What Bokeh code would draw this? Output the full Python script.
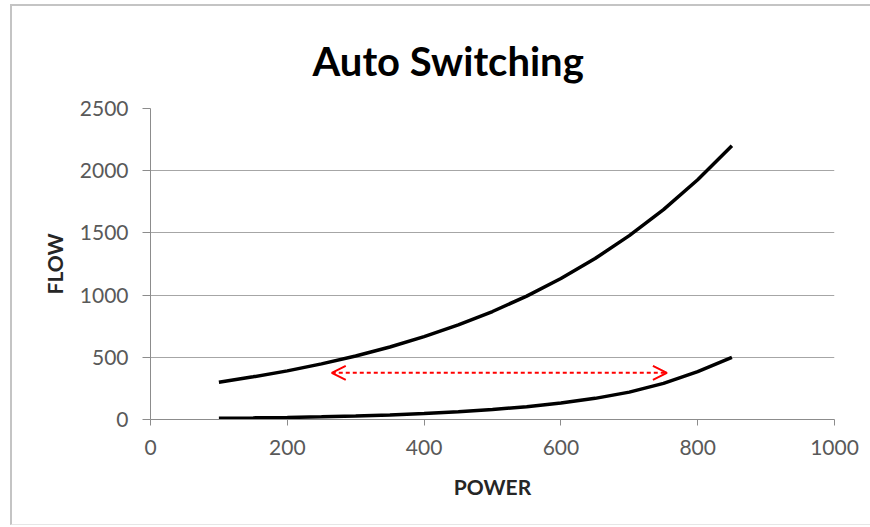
from bokeh.plotting import figure
from bokeh.models import Arrow, OpenHead, FixedTicker, InlineStyleSheet
from bokeh.embed import file_html
from bokeh.resources import INLINE

# ---- data ----
power = [100, 150, 200, 250, 300, 350, 400, 450, 500, 550, 600, 650, 700, 750, 800, 850]
flow_high = [300, 343, 391, 447, 510, 583, 666, 760, 868, 992, 1133, 1294, 1478, 1687, 1927, 2200]
flow_low = [10, 13, 17, 22, 29, 37, 48, 62, 80, 103, 132, 170, 220, 290, 385, 500]
switch_range = [265, 755]   # power span of the auto-switch arrow
switch_flow = 375           # flow level of the arrow
x_ticks = [0, 200, 400, 600, 800, 1000]
y_ticks = [0, 500, 1000, 1500, 2000, 2500]

FONT = "Lato"

p = figure(width=870, height=527, x_range=(0, 1000), y_range=(0, 2500),
           output_backend="svg", toolbar_location=None,
           min_border_left=150, min_border_right=36,
           min_border_top=108, min_border_bottom=108,
           background_fill_color="white", border_fill_color="white")
p.outline_line_color = None

# chart-area border drawn as an overlay (left, top and bottom edges)
p.stylesheets = [InlineStyleSheet(css="""
:host { position: relative; }
:host::after {
  content: "";
  position: absolute;
  left: 10px; top: 4px; right: 0px; bottom: 2px;
  border-left: 2px solid #c4c4c4;
  border-top: 2px solid #c4c4c4;
  border-bottom: 1px solid #e6e6e6;
  pointer-events: none;
  z-index: 10;
}
""")]

# title
p.title.text = "Auto Switching"
p.title.align = "left"
p.title.offset = 162
p.title.standoff = 48
p.title.text_font = FONT
p.title.text_font_style = "bold"
p.title.text_font_size = "40px"
p.title.text_color = "black"

# axes
for ax in (p.xaxis[0], p.yaxis[0]):
    ax.axis_line_color = "#8c8c8c"
    ax.axis_line_width = 1
    ax.major_tick_line_color = "#8c8c8c"
    ax.major_tick_in = 0
    ax.minor_tick_line_color = None
    ax.major_label_text_font = FONT
    ax.major_label_text_font_size = "21px"
    ax.major_label_text_color = "#595959"
    ax.axis_label_text_font = FONT
    ax.axis_label_text_font_style = "bold"
    ax.axis_label_text_font_size = "21px"
    ax.axis_label_text_color = "#262626"

p.xaxis.ticker = FixedTicker(ticks=x_ticks)
p.yaxis.ticker = FixedTicker(ticks=y_ticks)
p.xaxis.major_tick_out = 6
p.yaxis.major_tick_out = 8
p.xaxis.major_label_standoff = 14
p.yaxis.major_label_standoff = 14
p.xaxis.axis_label_standoff = 16
p.yaxis.axis_label_standoff = 10
p.xaxis.axis_label = "POWER"
p.yaxis.axis_label = "FLOW"

p.xgrid.grid_line_color = None
p.ygrid.ticker = FixedTicker(ticks=y_ticks)
p.ygrid.grid_line_color = "#a6a6a6"
p.ygrid.grid_line_width = 1

# curves
p.line(power, flow_high, line_color="black", line_width=3.5)
p.line(power, flow_low, line_color="black", line_width=3.5)

# red dashed double arrow
p.add_layout(Arrow(x_start=switch_range[0], y_start=switch_flow,
                   x_end=switch_range[1], y_end=switch_flow,
                   start=OpenHead(size=14, line_color="red", line_width=2),
                   end=OpenHead(size=14, line_color="red", line_width=2),
                   line_color="red", line_width=2, line_dash="4 3"))

open("out.html", "w").write(file_html(p, INLINE))
